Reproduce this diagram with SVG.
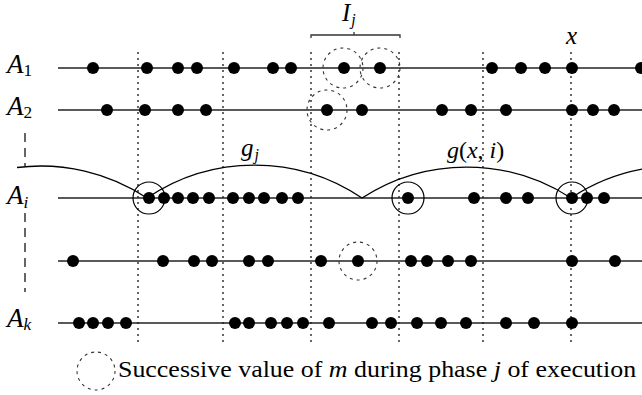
<svg xmlns="http://www.w3.org/2000/svg" width="642" height="395" viewBox="0 0 642 395">
<style>
.row{stroke:#222;stroke-width:1.3;fill:none}
.vdot{stroke:#000;stroke-width:1.2;stroke-dasharray:2,4;fill:none}
.dot{fill:#000}
.ring{stroke:#000;stroke-width:1.2;fill:none}
.dring{stroke:#333;stroke-width:1.1;stroke-dasharray:3,4;fill:none}
.arc{stroke:#000;stroke-width:1.3;fill:none}
text{fill:#000;font-family:"Liberation Serif","DejaVu Serif","Times New Roman",serif;font-size:18px}
.it{font-style:italic}
.up{font-style:normal}
.s{font-size:11.5px}
</style>
<rect width="642" height="395" fill="#fff"/>
<g id="verticals">
<line class="vdot" x1="138" y1="52" x2="138" y2="345"/>
<line class="vdot" x1="223" y1="52" x2="223" y2="345"/>
<line class="vdot" x1="311" y1="52" x2="311" y2="345"/>
<line class="vdot" x1="399" y1="52" x2="399" y2="345"/>
<line class="vdot" x1="483" y1="52" x2="483" y2="345"/>
<line class="vdot" x1="571" y1="52" x2="571" y2="345"/>
<line x1="25" y1="133" x2="25" y2="166" stroke="#000" stroke-width="1.2" stroke-dasharray="9,6"/>
<line x1="25" y1="213" x2="25" y2="292" stroke="#000" stroke-width="1.2" stroke-dasharray="9,6"/>
</g>
<g id="rows">
<line class="row" x1="58" y1="68" x2="642" y2="68"/>
<line class="row" x1="58" y1="110" x2="642" y2="110"/>
<line class="row" x1="58" y1="198" x2="642" y2="198"/>
<line class="row" x1="58" y1="261" x2="642" y2="261"/>
<line class="row" x1="58" y1="323" x2="642" y2="323"/>
</g>
<g id="connectors">
<path class="arc" d="M17,167.5 A192,192 0 0 1 147,198"/>
<path class="arc" d="M147,198 A192,192 0 0 1 362,198"/>
<path class="arc" d="M362,198 A192,192 0 0 1 571,198"/>
<path class="arc" d="M571,198 A192,192 0 0 1 642,169.2"/>
</g>
<g id="row-A1" class="dot">
<circle cx="93" cy="68" r="6"/><circle cx="147" cy="68" r="6"/><circle cx="178" cy="68" r="6"/><circle cx="197" cy="68" r="6"/><circle cx="234" cy="68" r="6"/><circle cx="273" cy="68" r="6"/><circle cx="291" cy="68" r="6"/><circle cx="344" cy="68" r="6"/><circle cx="380" cy="68" r="6"/><circle cx="492" cy="68" r="6"/><circle cx="521" cy="68" r="6"/><circle cx="545" cy="68" r="6"/><circle cx="572" cy="68" r="6"/><circle cx="641" cy="68" r="6"/>
</g>
<g id="row-A2" class="dot">
<circle cx="107" cy="110" r="6"/><circle cx="145" cy="110" r="6"/><circle cx="178" cy="110" r="6"/><circle cx="206" cy="110" r="6"/><circle cx="327" cy="110" r="6"/><circle cx="362" cy="110" r="6"/><circle cx="442" cy="110" r="6"/><circle cx="471" cy="110" r="6"/><circle cx="506" cy="110" r="6"/><circle cx="572" cy="110" r="6"/><circle cx="593" cy="110" r="6"/><circle cx="614" cy="110" r="6"/>
</g>
<g id="row-Ai" class="dot">
<circle cx="149" cy="198" r="6"/><circle cx="164" cy="198" r="6"/><circle cx="178" cy="198" r="6"/><circle cx="193" cy="198" r="6"/><circle cx="209" cy="198" r="6"/><circle cx="233" cy="198" r="6"/><circle cx="249" cy="198" r="6"/><circle cx="264" cy="198" r="6"/><circle cx="282" cy="198" r="6"/><circle cx="298" cy="198" r="6"/><circle cx="408" cy="198" r="6"/><circle cx="474" cy="198" r="6"/><circle cx="506" cy="198" r="6"/><circle cx="528" cy="198" r="6"/><circle cx="572" cy="198" r="6"/><circle cx="587" cy="198" r="6"/><circle cx="604" cy="198" r="6"/>
</g>
<g id="row-4" class="dot">
<circle cx="73" cy="261" r="6"/><circle cx="163" cy="261" r="6"/><circle cx="194" cy="261" r="6"/><circle cx="212" cy="261" r="6"/><circle cx="249" cy="261" r="6"/><circle cx="268" cy="261" r="6"/><circle cx="321" cy="261" r="6"/><circle cx="358" cy="261" r="6"/><circle cx="411" cy="261" r="6"/><circle cx="427" cy="261" r="6"/><circle cx="448" cy="261" r="6"/><circle cx="471" cy="261" r="6"/><circle cx="572" cy="261" r="6"/><circle cx="615" cy="261" r="6"/>
</g>
<g id="row-Ak" class="dot">
<circle cx="79" cy="323" r="6"/><circle cx="93" cy="323" r="6"/><circle cx="108" cy="323" r="6"/><circle cx="126" cy="323" r="6"/><circle cx="235" cy="323" r="6"/><circle cx="249" cy="323" r="6"/><circle cx="271" cy="323" r="6"/><circle cx="287" cy="323" r="6"/><circle cx="303" cy="323" r="6"/><circle cx="329" cy="323" r="6"/><circle cx="372" cy="323" r="6"/><circle cx="391" cy="323" r="6"/><circle cx="417" cy="323" r="6"/><circle cx="441" cy="323" r="6"/><circle cx="466" cy="323" r="6"/><circle cx="506" cy="323" r="6"/><circle cx="534" cy="323" r="6"/><circle cx="572" cy="323" r="6"/>
</g>
<g id="rings">
<circle class="ring" cx="149" cy="198" r="16"/>
<circle class="ring" cx="408" cy="198" r="16"/>
<circle class="ring" cx="572" cy="198" r="16"/>
<circle class="dring" cx="343" cy="68" r="20"/>
<circle class="dring" cx="380" cy="68" r="20"/>
<circle class="dring" cx="327" cy="110" r="20"/>
<circle class="dring" cx="358" cy="261" r="19"/>
</g>
<g id="interval">
<path d="M311,38 V35 H400 V38 M354,35 V32" stroke="#333" stroke-width="1.3" fill="none"/>
<text class="it" transform="translate(342,21) scale(1.39)">I<tspan class="s" dx="0.7" dy="3">j</tspan></text>
</g>
<g id="labels">
<text class="it" transform="translate(7,73) scale(1.5)">A<tspan class="s up" dy="2">1</tspan></text>
<text class="it" transform="translate(7,115) scale(1.5)">A<tspan class="s up" dy="2">2</tspan></text>
<text class="it" transform="translate(7,204) scale(1.5)">A<tspan class="s" dy="2.5">i</tspan></text>
<text class="it" transform="translate(7,327) scale(1.5)">A<tspan class="s" dy="2">k</tspan></text>
<text class="it" transform="translate(566,44) scale(1.39)">x</text>
<text class="it" transform="translate(241,156) scale(1.39)">g<tspan class="s" dx="0.7" dy="3">j</tspan></text>
<text transform="translate(447,158) scale(1.33)"><tspan class="it">g</tspan>(<tspan class="it">x</tspan>, <tspan class="it">i</tspan>)</text>
</g>
<g id="legend">
<circle class="dring" cx="96" cy="371" r="19"/>
<text transform="translate(118,377) scale(1.44,1.25)">Successive value of <tspan class="it">m</tspan> during phase <tspan class="it">j</tspan> of execution</text>
</g>
</svg>
